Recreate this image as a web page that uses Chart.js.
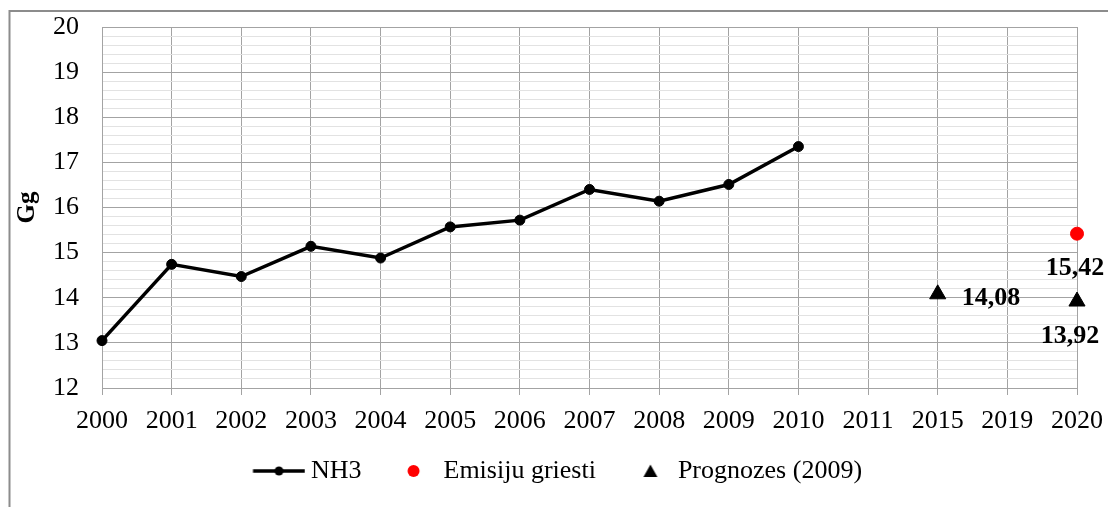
<!DOCTYPE html>
<html>
<head>
<meta charset="utf-8">
<script src="https://cdn.jsdelivr.net/npm/chart.js@4"></script>
<style>
  html, body { margin: 0; padding: 0; background: #fff; }
  #wrap { width: 1108px; height: 507px; }
</style>
</head>
<body>
<div id="wrap"><canvas id="myChart"></canvas></div>
<script>
const years = ['2000','2001','2002','2003','2004','2005','2006','2007','2008','2009','2010','2011','2015','2019','2020'];
const nh3 = [13.05, 14.74, 14.47, 15.14, 14.88, 15.57, 15.72, 16.40, 16.14, 16.51, 17.35];
const ceilingYears = ['2020'];
const ceiling = [15.42];
const forecastYears = ['2015', '2020'];
const forecast = [14.08, 13.92];

const serif = 'Liberation Serif';
const majorGrid = '#a3a3a3';
const minorGrid = '#e2e2e2';

// small canvases used as legend icons (line with dot, red dot, triangle)
function makeIcon(w, h, draw) {
  const c = document.createElement('canvas');
  c.width = w; c.height = h;
  draw(c.getContext('2d'));
  return c;
}
const legendIcons = [
  makeIcon(60, 14, g => {
    g.strokeStyle = '#000'; g.lineWidth = 3.5;
    g.beginPath(); g.moveTo(7.5, 7); g.lineTo(59.5, 7); g.stroke();
    g.fillStyle = '#000'; g.beginPath(); g.arc(33.5, 7, 4.5, 0, Math.PI * 2); g.fill();
  }),
  makeIcon(26, 16, g => {
    g.fillStyle = '#ff0000'; g.beginPath(); g.arc(18.5, 8, 6, 0, Math.PI * 2); g.fill();
  }),
  makeIcon(34, 16, g => {
    g.fillStyle = '#000'; g.beginPath();
    g.moveTo(25, 1.5); g.lineTo(32, 14); g.lineTo(18, 14); g.closePath(); g.fill();
  })
];

// value labels next to the single points
const valueLabels = [
  {ds: 1, i: 0, dx: -2, dy: 35, align: 'center', text: '15,42'},
  {ds: 2, i: 0, dx: 24, dy: 4, align: 'left', text: '14,08'},
  {ds: 2, i: 1, dx: -7, dy: 35, align: 'center', text: '13,92'}
];

const isMajor = v => Math.abs(v - Math.round(v)) < 1e-6;

const framePlugin = {
  id: 'frame',
  beforeDraw(chart) {
    const c = chart.ctx;
    c.save();
    c.strokeStyle = '#8c8c8c';
    c.lineWidth = 2;
    c.strokeRect(9.5, 11, 1200, 600);
    c.restore();
  }
};

const labelPlugin = {
  id: 'valueLabels',
  afterDatasetsDraw(chart) {
    const c = chart.ctx;
    c.save();
    c.font = 'bold 26px "' + serif + '"';
    c.fillStyle = '#000';
    c.textBaseline = 'middle';
    valueLabels.forEach(l => {
      const pt = chart.getDatasetMeta(l.ds).data[l.i];
      c.textAlign = l.align;
      c.fillText(l.text, pt.x + l.dx, pt.y + l.dy);
    });
    c.restore();
  }
};

const data = {
  labels: years,
  datasets: [{
    label: 'NH3',
    data: nh3,
    borderColor: '#000',
    backgroundColor: '#000',
    borderWidth: 3.5,
    pointRadius: 5,
    pointBorderWidth: 1,
    pointStyle: 'circle',
    tension: 0
  }, {
    label: 'Emisiju griesti',
    data: ceilingYears.map((x, i) => ({x: x, y: ceiling[i]})),
    showLine: false,
    borderColor: '#ff0000',
    backgroundColor: '#ff0000',
    pointRadius: 6.5,
    pointStyle: 'circle'
  }, {
    label: 'Prognozes (2009)',
    data: forecastYears.map((x, i) => ({x: x, y: forecast[i]})),
    showLine: false,
    borderColor: '#000',
    backgroundColor: '#000',
    pointRadius: 9.3,
    pointStyle: 'triangle'
  }]
};

const config = {
  type: 'line',
  data,
  options: {
    responsive: true,
    maintainAspectRatio: false,
    animation: false,
    layout: { padding: { left: 9, top: 27, right: 2, bottom: 13 } },
    scales: {
      x: {
        type: 'category',
        offset: false,
        grid: { color: majorGrid, tickLength: 7, tickColor: majorGrid },
        border: { color: majorGrid },
        ticks: {
          color: '#000',
          font: { family: serif, size: 26 },
          padding: 11,
          autoSkip: false,
          maxRotation: 0
        },
        afterFit: s => { s.paddingRight = 31; s.height = 46; }
      },
      y: {
        min: 12,
        max: 20,
        grid: {
          drawTicks: false,
          color: c => isMajor(c.tick.value) ? majorGrid : minorGrid
        },
        border: { color: majorGrid },
        ticks: {
          stepSize: 0.2,
          autoSkip: false,
          color: '#000',
          padding: 23,
          font: { family: serif, size: 26 },
          callback: v => isMajor(v) ? Math.round(v) : ''
        },
        title: {
          display: true,
          text: 'Gg',
          color: '#000',
          font: { family: serif, size: 25, weight: 'bold' }
        },
        afterFit: s => { s.width = 93; s.paddingTop = 0; s.paddingBottom = 0; }
      }
    },
    plugins: {
      tooltip: { enabled: false },
      legend: {
        position: 'bottom',
        labels: {
          color: '#000',
          font: { family: serif, size: 26 },
          usePointStyle: true,
          pointStyleWidth: 45,
          padding: 24,
          generateLabels: chart => Chart.defaults.plugins.legend.labels.generateLabels(chart)
            .map((item, i) => Object.assign(item, { pointStyle: legendIcons[i] }))
        }
      }
    }
  },
  plugins: [framePlugin, labelPlugin]
};

var myChart = new Chart(document.getElementById('myChart').getContext('2d'), config);
</script>
</body>
</html>
